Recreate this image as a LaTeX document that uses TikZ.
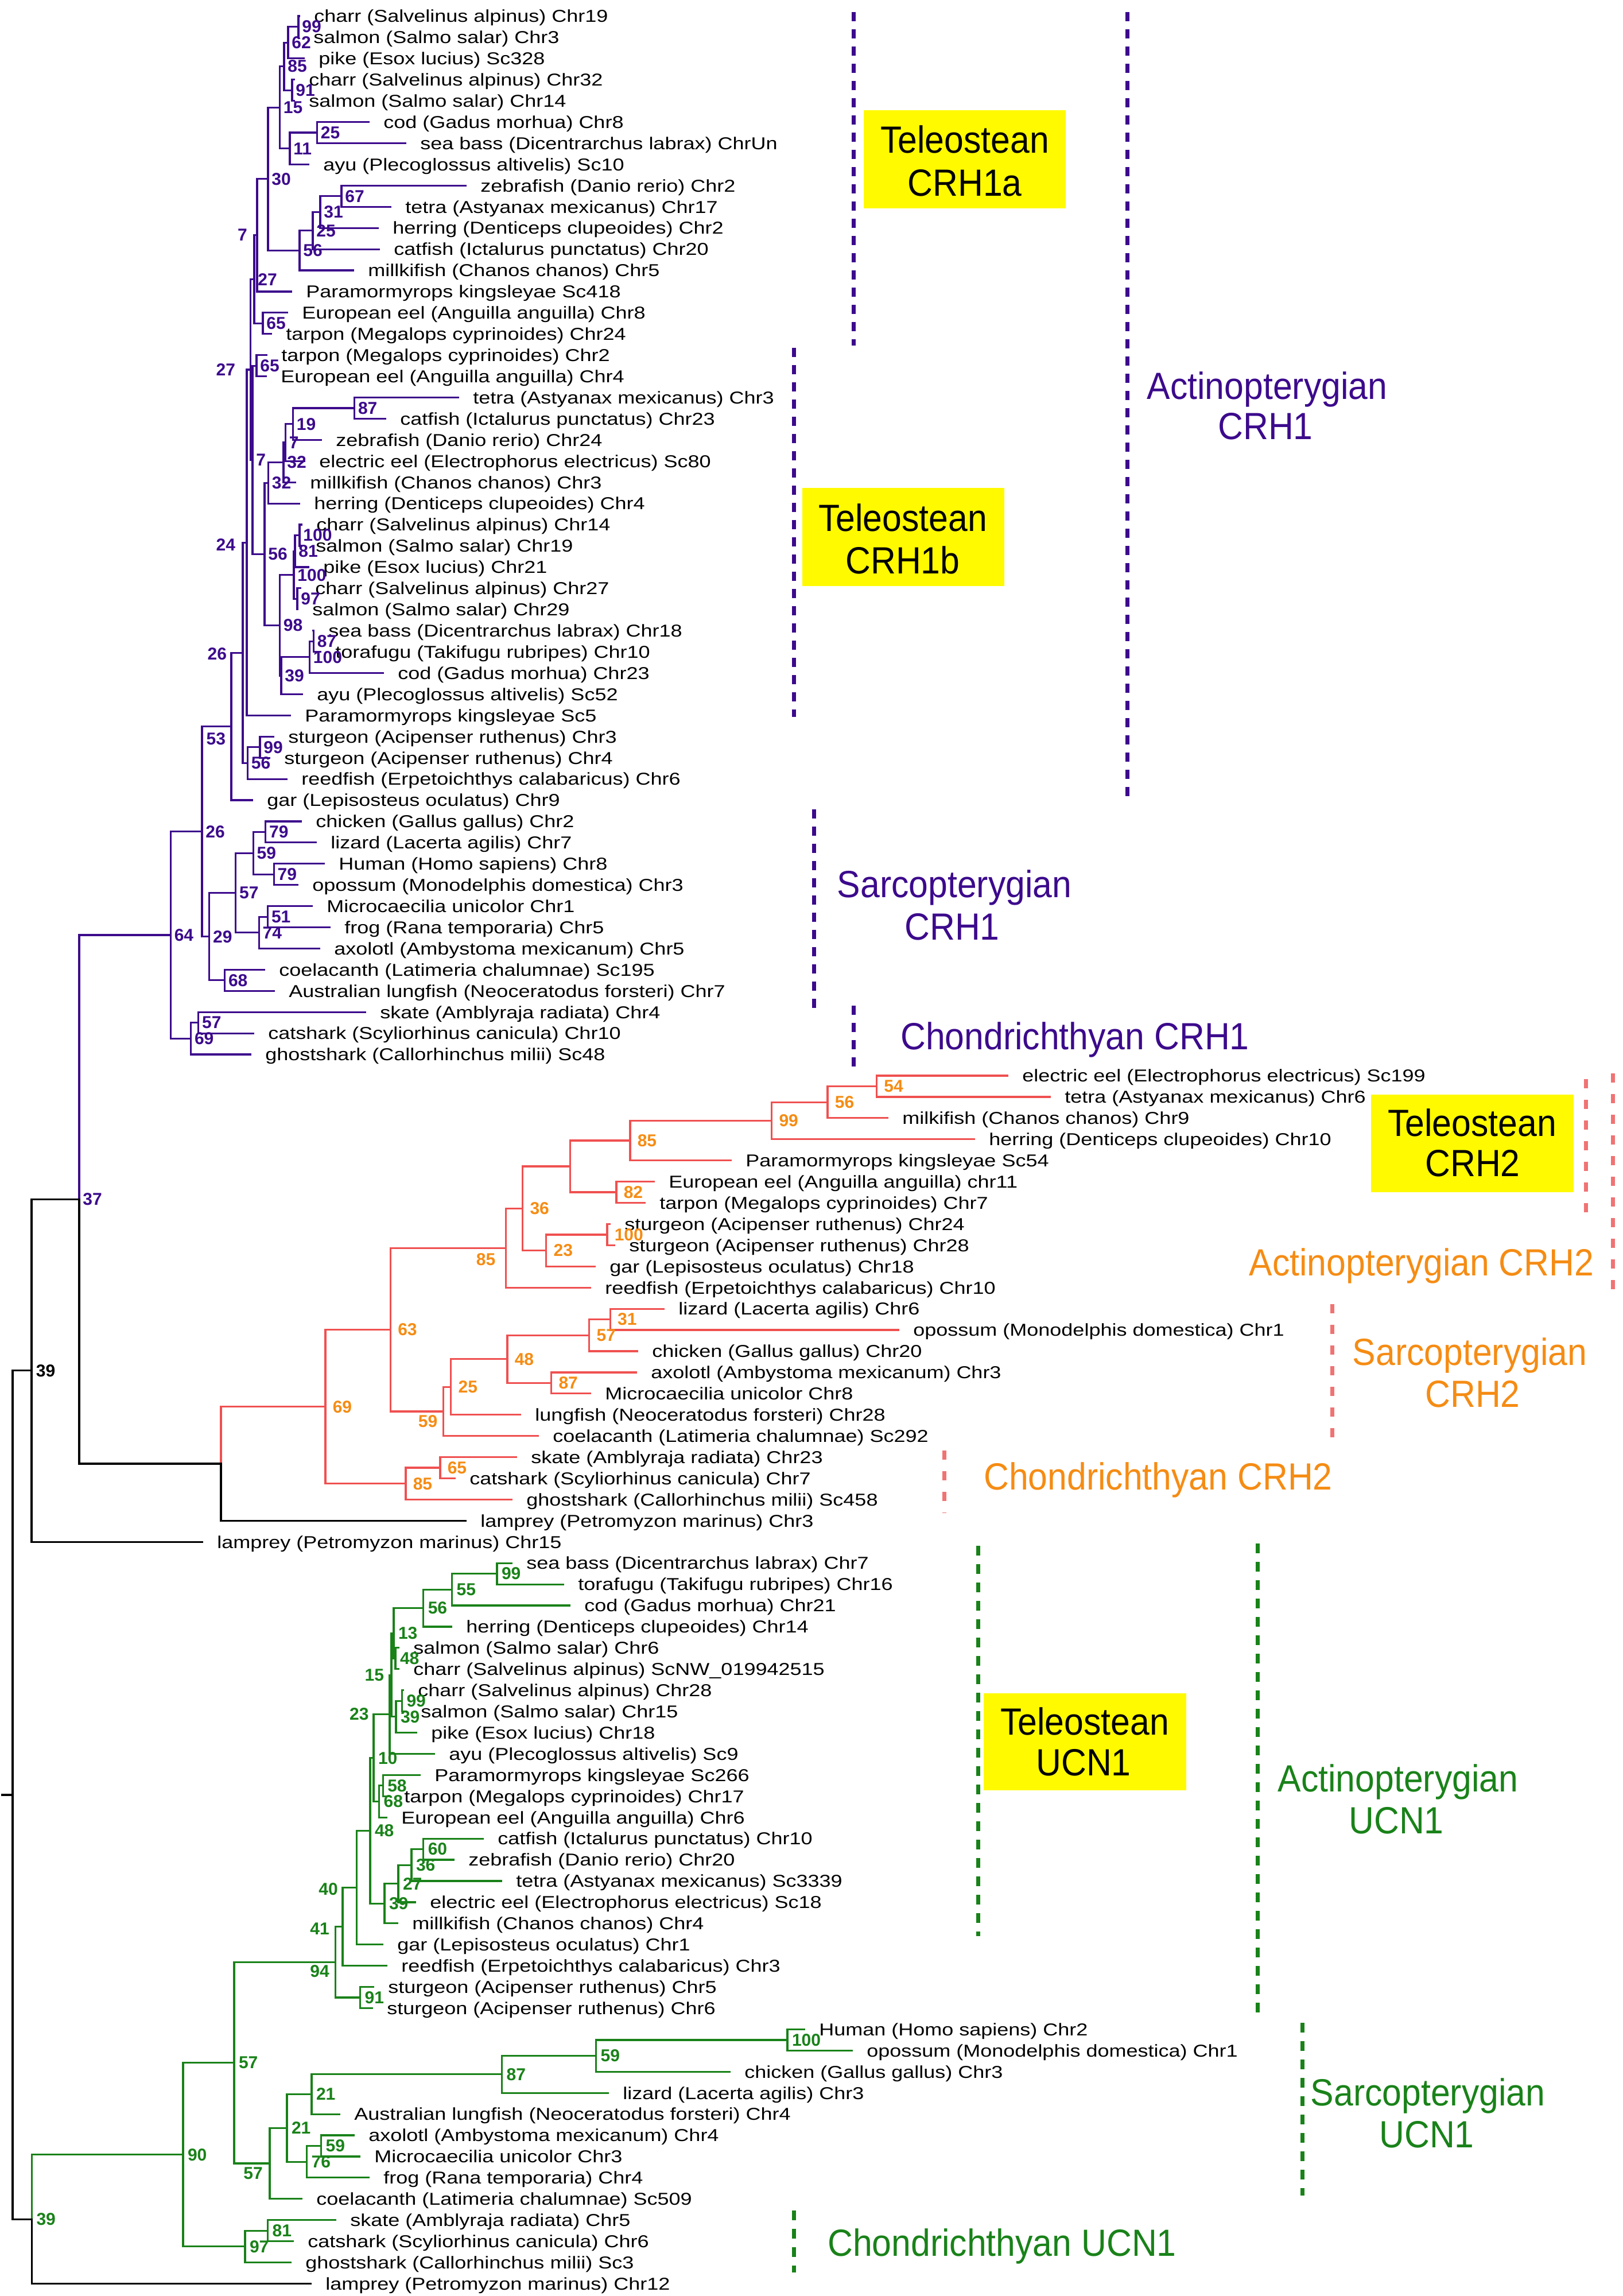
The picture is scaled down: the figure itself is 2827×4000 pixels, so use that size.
\documentclass[tikz,border=0pt]{standalone}
\usepackage{fontspec}
\setmainfont{Liberation Sans}
\newfontfamily\leaffont[FakeStretch=1.2]{Liberation Sans}
\newfontfamily\grpfont[FakeStretch=0.92]{Liberation Sans}
\definecolor{pur}{RGB}{60,10,140}
\definecolor{redb}{RGB}{240,80,80}
\definecolor{redd}{RGB}{240,115,115}
\definecolor{org}{RGB}{245,140,20}
\definecolor{grn}{RGB}{25,130,25}
\definecolor{yel}{RGB}{255,250,0}
\tikzset{
  br/.style={line width=0.8pt, line cap=rect},
  pbr/.style={br, draw=pur},
  rbr/.style={br, draw=redb},
  gbr/.style={br, draw=grn},
  kbr/.style={br, draw=black},
  leaf/.style={anchor=base west, inner sep=0pt, xshift=6.4pt, yshift=-2.7pt, font=\leaffont\fontsize{7.5}{9}\selectfont},
  bsbase/.style={inner sep=0pt, font=\bfseries\fontsize{7.5}{9}\selectfont},
  bsP/.style={bsbase, anchor=west, xshift=1.4pt, text=pur},
  bsO/.style={bsbase, anchor=west, xshift=3pt, text=org},
  bsG/.style={bsbase, anchor=west, xshift=1.8pt, text=grn},
  bsK/.style={bsbase, anchor=west, xshift=1.8pt, text=black},
  bsC/.style={bsbase, anchor=center},
  grp/.style={anchor=base, inner sep=0pt, font=\grpfont\fontsize{16.5}{19}\selectfont},
  pdash/.style={line width=1.75pt, draw=pur, dash pattern=on 4pt off 3.5pt},
  rdash/.style={line width=1.75pt, draw=redd, dash pattern=on 4pt off 5pt},
  gdash/.style={line width=1.75pt, draw=grn, dash pattern=on 4.25pt off 3.75pt},
}
\newcommand{\leafat}[3]{\coordinate (L#1) at (#2,#1);\node[leaf] (t#1) at (L#1) {#3};}
\begin{document}
\begin{tikzpicture}[x=0.25pt,y=-9.23pt]
% ---------- frame (full-pixel scope) ----------
\begin{scope}[x=0.25pt,y=-0.25pt,yshift=7pt]
\useasboundingbox (0,0) rectangle (2827,4000);
\end{scope}
% ---------- leaves ----------
\leafat{0}{521}{charr (Salvelinus alpinus) Chr19}
\leafat{1}{520}{salmon (Salmo salar) Chr3}
\leafat{2}{529}{pike (Esox lucius) Sc328}
\leafat{3}{512}{charr (Salvelinus alpinus) Chr32}
\leafat{4}{512}{salmon (Salmo salar) Chr14}
\leafat{5}{642}{cod (Gadus morhua) Chr8}
\leafat{6}{706}{sea bass (Dicentrarchus labrax) ChrUn}
\leafat{7}{537}{ayu (Plecoglossus altivelis) Sc10}
\leafat{8}{811}{zebrafish (Danio rerio) Chr2}
\leafat{9}{680}{tetra (Astyanax mexicanus) Chr17}
\leafat{10}{658}{herring (Denticeps clupeoides) Chr2}
\leafat{11}{660}{catfish (Ictalurus punctatus) Chr20}
\leafat{12}{615}{millkifish (Chanos chanos) Chr5}
\leafat{13}{507}{Paramormyrops kingsleyae Sc418}
\leafat{14}{500}{European eel (Anguilla anguilla) Chr8}
\leafat{15}{472}{tarpon (Megalops cyprinoides) Chr24}
\leafat{16}{464}{tarpon (Megalops cyprinoides) Chr2}
\leafat{17}{463}{European eel (Anguilla anguilla) Chr4}
\leafat{18}{798}{tetra (Astyanax mexicanus) Chr3}
\leafat{19}{671}{catfish (Ictalurus punctatus) Chr23}
\leafat{20}{559}{zebrafish (Danio rerio) Chr24}
\leafat{21}{530}{electric eel (Electrophorus electricus) Sc80}
\leafat{22}{514}{millkifish (Chanos chanos) Chr3}
\leafat{23}{521}{herring (Denticeps clupeoides) Chr4}
\leafat{24}{525}{charr (Salvelinus alpinus) Chr14}
\leafat{25}{524}{salmon (Salmo salar) Chr19}
\leafat{26}{537}{pike (Esox lucius) Chr21}
\leafat{27}{523}{charr (Salvelinus alpinus) Chr27}
\leafat{28}{518}{salmon (Salmo salar) Chr29}
\leafat{29}{546}{sea bass (Dicentrarchus labrax) Chr18}
\leafat{30}{558}{torafugu (Takifugu rubripes) Chr10}
\leafat{31}{667}{cod (Gadus morhua) Chr23}
\leafat{32}{526}{ayu (Plecoglossus altivelis) Sc52}
\leafat{33}{505}{Paramormyrops kingsleyae Sc5}
\leafat{34}{476}{sturgeon (Acipenser ruthenus) Chr3}
\leafat{35}{469}{sturgeon (Acipenser ruthenus) Chr4}
\leafat{36}{499}{reedfish (Erpetoichthys calabaricus) Chr6}
\leafat{37}{439}{gar (Lepisosteus oculatus) Chr9}
\leafat{38}{524}{chicken (Gallus gallus) Chr2}
\leafat{39}{550}{lizard (Lacerta agilis) Chr7}
\leafat{40}{564}{Human (Homo sapiens) Chr8}
\leafat{41}{518}{opossum (Monodelphis domestica) Chr3}
\leafat{42}{543}{Microcaecilia unicolor Chr1}
\leafat{43}{574}{frog (Rana temporaria) Chr5}
\leafat{44}{556}{axolotl (Ambystoma mexicanum) Chr5}
\leafat{45}{460}{coelacanth (Latimeria chalumnae) Sc195}
\leafat{46}{477}{Australian lungfish (Neoceratodus forsteri) Chr7}
\leafat{47}{636}{skate (Amblyraja radiata) Chr4}
\leafat{48}{441}{catshark (Scyliorhinus canicula) Chr10}
\leafat{49}{436}{ghostshark (Callorhinchus milii) Sc48}
\leafat{50}{1755}{electric eel (Electrophorus electricus) Sc199}
\leafat{51}{1829}{tetra (Astyanax mexicanus) Chr6}
\leafat{52}{1546}{milkifish (Chanos chanos) Chr9}
\leafat{53}{1697}{herring (Denticeps clupeoides) Chr10}
\leafat{54}{1273}{Paramormyrops kingsleyae Sc54}
\leafat{55}{1139}{European eel (Anguilla anguilla) chr11}
\leafat{56}{1123}{tarpon (Megalops cyprinoides) Chr7}
\leafat{57}{1062}{sturgeon (Acipenser ruthenus) Chr24}
\leafat{58}{1070}{sturgeon (Acipenser ruthenus) Chr28}
\leafat{59}{1036}{gar (Lepisosteus oculatus) Chr18}
\leafat{60}{1028}{reedfish (Erpetoichthys calabaricus) Chr10}
\leafat{61}{1156}{lizard (Lacerta agilis) Chr6}
\leafat{62}{1565}{opossum (Monodelphis domestica) Chr1}
\leafat{63}{1110}{chicken (Gallus gallus) Chr20}
\leafat{64}{1108}{axolotl (Ambystoma mexicanum) Chr3}
\leafat{65}{1028}{Microcaecilia unicolor Chr8}
\leafat{66}{906}{lungfish (Neoceratodus forsteri) Chr28}
\leafat{67}{937}{coelacanth (Latimeria chalumnae) Sc292}
\leafat{68}{899}{skate (Amblyraja radiata) Chr23}
\leafat{69}{792}{catshark (Scyliorhinus canicula) Chr7}
\leafat{70}{891}{ghostshark (Callorhinchus milii) Sc458}
\leafat{71}{811}{lamprey (Petromyzon marinus) Chr3}
\leafat{72}{352}{lamprey (Petromyzon marinus) Chr15}
\leafat{73}{891}{sea bass (Dicentrarchus labrax) Chr7}
\leafat{74}{981}{torafugu (Takifugu rubripes) Chr16}
\leafat{75}{992}{cod (Gadus morhua) Chr21}
\leafat{76}{786}{herring (Denticeps clupeoides) Chr14}
\leafat{77}{694}{salmon (Salmo salar) Chr6}
\leafat{78}{694}{charr (Salvelinus alpinus) ScNW\_019942515}
\leafat{79}{702}{charr (Salvelinus alpinus) Chr28}
\leafat{80}{707}{salmon (Salmo salar) Chr15}
\leafat{81}{725}{pike (Esox lucius) Chr18}
\leafat{82}{756}{ayu (Plecoglossus altivelis) Sc9}
\leafat{83}{731}{Paramormyrops kingsleyae Sc266}
\leafat{84}{678}{tarpon (Megalops cyprinoides) Chr17}
\leafat{85}{673}{European eel (Anguilla anguilla) Chr6}
\leafat{86}{841}{catfish (Ictalurus punctatus) Chr10}
\leafat{87}{790}{zebrafish (Danio rerio) Chr20}
\leafat{88}{873}{tetra (Astyanax mexicanus) Sc3339}
\leafat{89}{723}{electric eel (Electrophorus electricus) Sc18}
\leafat{90}{692}{millkifish (Chanos chanos) Chr4}
\leafat{91}{666}{gar (Lepisosteus oculatus) Chr1}
\leafat{92}{673}{reedfish (Erpetoichthys calabaricus) Chr3}
\leafat{93}{650}{sturgeon (Acipenser ruthenus) Chr5}
\leafat{94}{648}{sturgeon (Acipenser ruthenus) Chr6}
\leafat{95}{1401}{Human (Homo sapiens) Chr2}
\leafat{96}{1484}{opossum (Monodelphis domestica) Chr1}
\leafat{97}{1271}{chicken (Gallus gallus) Chr3}
\leafat{98}{1059}{lizard (Lacerta agilis) Chr3}
\leafat{99}{591}{Australian lungfish (Neoceratodus forsteri) Chr4}
\leafat{100}{616}{axolotl (Ambystoma mexicanum) Chr4}
\leafat{101}{626}{Microcaecilia unicolor Chr3}
\leafat{102}{642}{frog (Rana temporaria) Chr4}
\leafat{103}{525}{coelacanth (Latimeria chalumnae) Sc509}
\leafat{104}{584}{skate (Amblyraja radiata) Chr5}
\leafat{105}{510}{catshark (Scyliorhinus canicula) Chr6}
\leafat{106}{506}{ghostshark (Callorhinchus milii) Sc3}
\leafat{107}{541}{lamprey (Petromyzon marinus) Chr12}
% ---------- internal nodes: CRH1 ----------
\coordinate (a99) at (520,0.5);
\coordinate (a62) at (502,1.25);
\coordinate (a91) at (509,3.5);
\coordinate (a85) at (495,2.375);
\coordinate (a25) at (552.5,5.5);
\coordinate (a11) at (505,6.25);
\coordinate (a15) at (487.5,4.3125);
\coordinate (a67) at (595,8.5);
\coordinate (a31) at (558,9.25);
\coordinate (b25) at (545,10.125);
\coordinate (a56) at (522,11.0625);
\coordinate (a30) at (467,7.6875);
\coordinate (a7) at (448,10.34375);
\coordinate (a65) at (458,14.5);
\coordinate (a27) at (443,12.421875);
\coordinate (b65) at (447,16.5);
\coordinate (a87) at (617.6,18.5);
\coordinate (a19) at (510.5,19.25);
\coordinate (c7) at (497.4,20.125);
\coordinate (a32) at (494,21.0625);
\coordinate (b32) at (467.5,22.03125);
\coordinate (a100) at (522,24.5);
\coordinate (a81) at (514,25.25);
\coordinate (a97) at (518,27.5);
\coordinate (b100) at (512,26.375);
\coordinate (b87) at (546.4,29.5);
\coordinate (c100) at (539.5,30.25);
\coordinate (a39) at (490,31.125);
\coordinate (a98) at (487.5,28.75);
\coordinate (b56) at (461,25.390625);
\coordinate (b7) at (440,20.9453);
\coordinate (b27) at (436.5,16.6836);
\coordinate (a24) at (430,24.8418);
\coordinate (b99) at (453,34.5);
\coordinate (c56) at (431.5,35.25);
\coordinate (a26) at (423,30.0459);
\coordinate (a53) at (403,33.523);
\coordinate (a79) at (462.7,38.5);
\coordinate (b79) at (477.3,40.5);
\coordinate (a59) at (441.3,39.5);
\coordinate (a51) at (466.6,42.5);
\coordinate (a74) at (451.3,43.25);
\coordinate (a57) at (410.7,41.375);
\coordinate (a68) at (391.6,45.5);
\coordinate (a29) at (364.8,43.4375);
\coordinate (b26) at (352,38.48);
\coordinate (b57) at (345.7,47.5);
\coordinate (a69) at (332.6,48.25);
\coordinate (a64) at (297.4,43.365);
% ---------- internal nodes: CRH2 ----------
\coordinate (c54) at (1527.6,50.5);
\coordinate (d56) at (1442,51.25);
\coordinate (c99) at (1344.7,52.125);
\coordinate (c85) at (1098,53.0625);
\coordinate (c82) at (1074,55.5);
\coordinate (cx) at (993.8,54.28125);
\coordinate (d100) at (1058,57.5);
\coordinate (c23) at (951.8,58.25);
\coordinate (c36) at (910.7,56.2656);
\coordinate (d85) at (881.4,58.1328);
\coordinate (c31) at (1063.4,61.5);
\coordinate (d57) at (1026.8,62.25);
\coordinate (c87) at (960.7,64.5);
\coordinate (c48) at (884,63.375);
\coordinate (d25) at (785.8,64.6875);
\coordinate (d59) at (772.4,65.84375);
\coordinate (c63) at (680.5,61.988);
\coordinate (c65) at (767,68.5);
\coordinate (e85) at (707,69.25);
\coordinate (c69) at (567,65.619);
\coordinate (crl) at (385,68.3095);
\coordinate (n37) at (138,55.837);
\coordinate (n39) at (55,63.9185);
% ---------- internal nodes: UCN1 ----------
\coordinate (u99) at (866,73.5);
\coordinate (u55) at (787.6,74.25);
\coordinate (u56) at (737.8,75.125);
\coordinate (u48) at (689,77.5);
\coordinate (u13) at (686,76.3125);
\coordinate (v99) at (700.5,79.5);
\coordinate (u39) at (690,80.25);
\coordinate (u15) at (682,78.28125);
\coordinate (u23) at (679,80.140625);
\coordinate (u58) at (667.3,83.5);
\coordinate (u68) at (660.7,84.25);
\coordinate (u10) at (651,82.1953);
\coordinate (u60) at (737.8,86.5);
\coordinate (u36) at (717,87.25);
\coordinate (u27) at (694,88.125);
\coordinate (v39) at (670,89.0625);
\coordinate (v48) at (645,85.6289);
\coordinate (u40) at (621.8,88.3145);
\coordinate (u41) at (597,90.157);
\coordinate (u91) at (627.6,93.5);
\coordinate (u94) at (584.4,91.8286);
\coordinate (u100) at (1372,95.5);
\coordinate (v59) at (1038.7,96.25);
\coordinate (u87) at (874.6,97.125);
\coordinate (u21) at (543,98.0625);
\coordinate (w59) at (559.6,100.5);
\coordinate (u76) at (534.7,101.25);
\coordinate (v21) at (500,99.656);
\coordinate (u57) at (470,101.328);
\coordinate (v57) at (408,96.578);
\coordinate (u81) at (466.7,104.5);
\coordinate (u97) at (427,105.25);
\coordinate (u90) at (319,100.914);
\coordinate (u39g) at (55.5,103.957);
\coordinate (root) at (22,83.938);
\coordinate (rstem) at (4,83.938);
% ---------- branches: CRH1 ----------
\draw[pbr] (L0) -| (a99) |- (L1);
\draw[pbr] (a99) -| (a62) |- (L2);
\draw[pbr] (L3) -| (a91) |- (L4);
\draw[pbr] (a62) -| (a85) |- (a91);
\draw[pbr] (L5) -| (a25) |- (L6);
\draw[pbr] (a25) -| (a11) |- (L7);
\draw[pbr] (a85) -| (a15) |- (a11);
\draw[pbr] (L8) -| (a67) |- (L9);
\draw[pbr] (a67) -| (a31) |- (L10);
\draw[pbr] (a31) -| (b25) |- (L11);
\draw[pbr] (b25) -| (a56) |- (L12);
\draw[pbr] (a15) -| (a30) |- (a56);
\draw[pbr] (a30) -| (a7) |- (L13);
\draw[pbr] (L14) -| (a65) |- (L15);
\draw[pbr] (a7) -| (a27) |- (a65);
\draw[pbr] (L16) -| (b65) |- (L17);
\draw[pbr] (L18) -| (a87) |- (L19);
\draw[pbr] (a87) -| (a19) |- (L20);
\draw[pbr] (a19) -| (c7) |- (L21);
\draw[pbr] (c7) -| (a32) |- (L22);
\draw[pbr] (a32) -| (b32) |- (L23);
\draw[pbr] (L24) -| (a100) |- (L25);
\draw[pbr] (a100) -| (a81) |- (L26);
\draw[pbr] (L27) -| (a97) |- (L28);
\draw[pbr] (a81) -| (b100) |- (a97);
\draw[pbr] (L29) -| (b87) |- (L30);
\draw[pbr] (b87) -| (c100) |- (L31);
\draw[pbr] (c100) -| (a39) |- (L32);
\draw[pbr] (b100) -| (a98) |- (a39);
\draw[pbr] (b32) -| (b56) |- (a98);
\draw[pbr] (b65) -| (b7) |- (b56);
\draw[pbr] (a27) -| (b27) |- (b7);
\draw[pbr] (b27) -| (a24) |- (L33);
\draw[pbr] (L34) -| (b99) |- (L35);
\draw[pbr] (b99) -| (c56) |- (L36);
\draw[pbr] (a24) -| (a26) |- (c56);
\draw[pbr] (a26) -| (a53) |- (L37);
\draw[pbr] (L38) -| (a79) |- (L39);
\draw[pbr] (L40) -| (b79) |- (L41);
\draw[pbr] (a79) -| (a59) |- (b79);
\draw[pbr] (L42) -| (a51) |- (L43);
\draw[pbr] (a51) -| (a74) |- (L44);
\draw[pbr] (a59) -| (a57) |- (a74);
\draw[pbr] (L45) -| (a68) |- (L46);
\draw[pbr] (a57) -| (a29) |- (a68);
\draw[pbr] (a53) -| (b26) |- (a29);
\draw[pbr] (L47) -| (b57) |- (L48);
\draw[pbr] (b57) -| (a69) |- (L49);
\draw[pbr] (b26) -| (a64) |- (a69);
\draw[pbr] (a64) -| (n37);
\draw[kbr] (n37) |- (crl);
% ---------- branches: CRH2 ----------
\draw[rbr] (L50) -| (c54) |- (L51);
\draw[rbr] (c54) -| (d56) |- (L52);
\draw[rbr] (d56) -| (c99) |- (L53);
\draw[rbr] (c99) -| (c85) |- (L54);
\draw[rbr] (L55) -| (c82) |- (L56);
\draw[rbr] (c85) -| (cx) |- (c82);
\draw[rbr] (L57) -| (d100) |- (L58);
\draw[rbr] (d100) -| (c23) |- (L59);
\draw[rbr] (cx) -| (c36) |- (c23);
\draw[rbr] (c36) -| (d85) |- (L60);
\draw[rbr] (L61) -| (c31) |- (L62);
\draw[rbr] (c31) -| (d57) |- (L63);
\draw[rbr] (L64) -| (c87) |- (L65);
\draw[rbr] (d57) -| (c48) |- (c87);
\draw[rbr] (c48) -| (d25) |- (L66);
\draw[rbr] (d25) -| (d59) |- (L67);
\draw[rbr] (d85) -| (c63) |- (d59);
\draw[rbr] (L68) -| (c65) |- (L69);
\draw[rbr] (c65) -| (e85) |- (L70);
\draw[rbr] (c63) -| (c69) |- (e85);
\draw[rbr] (c69) -| (crl);
\draw[kbr] (crl) |- (L71);
\draw[kbr] (n37) -| (n39) |- (L72);
% ---------- branches: UCN1 ----------
\draw[gbr] (L73) -| (u99) |- (L74);
\draw[gbr] (u99) -| (u55) |- (L75);
\draw[gbr] (u55) -| (u56) |- (L76);
\draw[gbr] (L77) -| (u48) |- (L78);
\draw[gbr] (u56) -| (u13) |- (u48);
\draw[gbr] (L79) -| (v99) |- (L80);
\draw[gbr] (v99) -| (u39) |- (L81);
\draw[gbr] (u13) -| (u15) |- (u39);
\draw[gbr] (u15) -| (u23) |- (L82);
\draw[gbr] (L83) -| (u58) |- (L84);
\draw[gbr] (u58) -| (u68) |- (L85);
\draw[gbr] (u23) -| (u10) |- (u68);
\draw[gbr] (L86) -| (u60) |- (L87);
\draw[gbr] (u60) -| (u36) |- (L88);
\draw[gbr] (u36) -| (u27) |- (L89);
\draw[gbr] (u27) -| (v39) |- (L90);
\draw[gbr] (u10) -| (v48) |- (v39);
\draw[gbr] (v48) -| (u40) |- (L91);
\draw[gbr] (u40) -| (u41) |- (L92);
\draw[gbr] (L93) -| (u91) |- (L94);
\draw[gbr] (u41) -| (u94) |- (u91);
\draw[gbr] (L95) -| (u100) |- (L96);
\draw[gbr] (u100) -| (v59) |- (L97);
\draw[gbr] (v59) -| (u87) |- (L98);
\draw[gbr] (u87) -| (u21) |- (L99);
\draw[gbr] (L100) -| (w59) |- (L101);
\draw[gbr] (w59) -| (u76) |- (L102);
\draw[gbr] (u21) -| (v21) |- (u76);
\draw[gbr] (v21) -| (u57) |- (L103);
\draw[gbr] (u94) -| (v57) |- (u57);
\draw[gbr] (L104) -| (u81) |- (L105);
\draw[gbr] (u81) -| (u97) |- (L106);
\draw[gbr] (v57) -| (u90) |- (u97);
\draw[gbr] (u90) -| (u39g);
\draw[kbr] (u39g) |- (L107);
\draw[kbr] (n39) -| (root) |- (u39g);
\draw[kbr] (rstem) -- (root);
% ---------- bootstrap labels: CRH1 ----------
\node[bsP] (ba99) at (a99) {99};
\node[bsP] (ba62) at (a62) {62};
\node[bsP] (ba91) at (a91) {91};
\node[bsP] (ba85) at (a85) {85};
\node[bsP] (ba25) at (a25) {25};
\node[bsP] (ba11) at (a11) {11};
\node[bsP] (ba15) at (a15) {15};
\node[bsP] (ba67) at (a67) {67};
\node[bsP] (ba31) at (a31) {31};
\node[bsP] (bb25) at (b25) {25};
\node[bsP] (ba56) at (a56) {56};
\node[bsP] (ba30) at (a30) {30};
\node[bsP] (ba65) at (a65) {65};
\node[bsP] (ba27) at (a27) {27};
\node[bsP] (bb65) at (b65) {65};
\node[bsP] (ba87) at (a87) {87};
\node[bsP] (ba19) at (a19) {19};
\node[bsP] (bc7) at (c7) {7};
\node[bsP] (ba32) at (a32) {32};
\node[bsP] (bb32) at (b32) {32};
\node[bsP] (ba100) at (a100) {100};
\node[bsP] (ba81) at (a81) {81};
\node[bsP] (ba97) at (a97) {97};
\node[bsP] (bb100) at (b100) {100};
\node[bsP] (bb87) at (b87) {87};
\node[bsP] (bc100) at (c100) {100};
\node[bsP] (ba39) at (a39) {39};
\node[bsP] (ba98) at (a98) {98};
\node[bsP] (bb56) at (b56) {56};
\node[bsP] (bb7) at (b7) {7};
\node[bsP] (bb99) at (b99) {99};
\node[bsP] (bc56) at (c56) {56};
\node[bsP] (ba79) at (a79) {79};
\node[bsP] (bb79) at (b79) {79};
\node[bsP] (ba59) at (a59) {59};
\node[bsP] (ba51) at (a51) {51};
\node[bsP] (ba74) at (a74) {74};
\node[bsP] (ba57) at (a57) {57};
\node[bsP] (ba68) at (a68) {68};
\node[bsP] (ba29) at (a29) {29};
\node[bsP] (bb26) at (b26) {26};
\node[bsP] (bb57) at (b57) {57};
\node[bsP] (ba69) at (a69) {69};
\node[bsP] (ba64) at (a64) {64};
\node[bsP] (bn37) at (n37) {37};
\node[bsC,text=pur] (ba7) at (422.4,10.32) {7};
\node[bsC,text=pur] (bb27) at (393.3,16.68) {27};
\node[bsC,text=pur] (ba24) at (393.3,24.95) {24};
\node[bsC,text=pur] (ba26) at (378.3,30.09) {26};
\node[bsC,text=pur] (ba53) at (376.3,34.1) {53};
% ---------- bootstrap labels: CRH2 ----------
\node[bsO] (bc54) at (c54) {54};
\node[bsO] (bd56) at (d56) {56};
\node[bsO] (bc99) at (c99) {99};
\node[bsO] (bc85) at (c85) {85};
\node[bsO] (bc82) at (c82) {82};
\node[bsO] (bd100) at (d100) {100};
\node[bsO] (bc23) at (c23) {23};
\node[bsO] (bc36) at (c36) {36};
\node[bsO] (bc31) at (c31) {31};
\node[bsO] (bd57) at (d57) {57};
\node[bsO] (bc87) at (c87) {87};
\node[bsO] (bc48) at (c48) {48};
\node[bsO] (bd25) at (d25) {25};
\node[bsO] (bc63) at (c63) {63};
\node[bsO] (bc65) at (c65) {65};
\node[bsO] (be85) at (e85) {85};
\node[bsO] (bc69) at (c69) {69};
\node[bsC,text=org] (bd85) at (846.6,58.66) {85};
\node[bsC,text=org] (bd59) at (745.6,66.3) {59};
\node[bsK] (bn39) at (n39) {39};
% ---------- bootstrap labels: UCN1 ----------
\node[bsG] (bu99) at (u99) {99};
\node[bsG] (bu55) at (u55) {55};
\node[bsG] (bu56) at (u56) {56};
\node[bsG] (bu48) at (u48) {48};
\node[bsG] (bu13) at (u13) {13};
\node[bsG] (bv99) at (v99) {99};
\node[bsG] (bu39) at (u39) {39};
\node[bsG] (bu10) at (u10) {10};
\node[bsG] (bu58) at (u58) {58};
\node[bsG] (bu68) at (u68) {68};
\node[bsG] (bv48) at (v48) {48};
\node[bsG] (bu60) at (u60) {60};
\node[bsG] (bu36) at (u36) {36};
\node[bsG] (bu27) at (u27) {27};
\node[bsG] (bv39) at (v39) {39};
\node[bsG] (bu91) at (u91) {91};
\node[bsG] (bu100) at (u100) {100};
\node[bsG] (bv59) at (v59) {59};
\node[bsG] (bu87) at (u87) {87};
\node[bsG] (bu21) at (u21) {21};
\node[bsG] (bw59) at (w59) {59};
\node[bsG] (bu76) at (u76) {76};
\node[bsG] (bv21) at (v21) {21};
\node[bsG] (bv57) at (v57) {57};
\node[bsG] (bu81) at (u81) {81};
\node[bsG] (bu97) at (u97) {97};
\node[bsG] (bu90) at (u90) {90};
\node[bsG] (bu39g) at (u39g) {39};
\node[bsC,text=grn] (bu15) at (652.4,78.28) {15};
\node[bsC,text=grn] (bu23) at (625.9,80.13) {23};
\node[bsC,text=grn] (bu40) at (572,88.38) {40};
\node[bsC,text=grn] (bu41) at (557,90.25) {41};
\node[bsC,text=grn] (bu94) at (557,92.25) {94};
\node[bsC,text=grn] (bu57) at (441,101.8) {57};
% ---------- group annotations (full-pixel scope) ----------
\begin{scope}[x=0.25pt,y=-0.25pt,yshift=7pt]
% CRH1
\draw[pdash] (1487,21) -- (1487,602);
\draw[pdash] (1964,21) -- (1964,1392);
\draw[pdash] (1383,606) -- (1383,1249);
\draw[pdash] (1418,1410) -- (1418,1757);
\draw[pdash] (1487,1752) -- (1487,1858);
\fill[yel] (1505,192) rectangle (1857,363.5);
\node[grp] (g1a) at (1681,267) {Teleostean};
\node[grp] (g1b) at (1681,342) {CRH1a};
\fill[yel] (1398,850) rectangle (1750,1021);
\node[grp] (g2a) at (1573,926) {Teleostean};
\node[grp] (g2b) at (1573,999) {CRH1b};
\node[grp,text=pur] (g3a) at (2208,696) {Actinopterygian};
\node[grp,text=pur] (g3b) at (2205,766) {CRH1};
\node[grp,text=pur] (g4a) at (1663,1563) {Sarcopterygian};
\node[grp,text=pur] (g4b) at (1659,1637) {CRH1};
\node[grp,text=pur] (g5) at (1873,1828) {Chondrichthyan CRH1};
% CRH2
\draw[rdash] (2763.6,1880) -- (2763.6,2112.5);
\draw[rdash] (2810,1870) -- (2810,2262);
\draw[rdash] (2321,2272) -- (2321,2508);
\draw[rdash] (1645.6,2527) -- (1645.6,2635.5);
\fill[yel] (2388.6,1907) rectangle (2741.5,2077.4);
\node[grp] (g6a) at (2565,1979) {Teleostean};
\node[grp] (g6b) at (2566,2049) {CRH2};
\node[grp,text=org] (g7) at (2477,2222) {Actinopterygian CRH2};
\node[grp,text=org] (g8a) at (2561,2378) {Sarcopterygian};
\node[grp,text=org] (g8b) at (2566,2451) {CRH2};
\node[grp,text=org] (g9) at (2018,2595) {Chondrichthyan CRH2};
% UCN1
\draw[gdash] (1704,2693) -- (1704,3373);
\draw[gdash] (2191,2689) -- (2191,3515);
\draw[gdash] (2269,3524) -- (2269,3825);
\draw[gdash] (1383,3851) -- (1383,3959);
\fill[yel] (1714,2949.6) rectangle (2066.5,3119);
\node[grp] (g10a) at (1890,3022) {Teleostean};
\node[grp] (g10b) at (1888,3093) {UCN1};
\node[grp,text=grn] (g11a) at (2436,3121) {Actinopterygian};
\node[grp,text=grn] (g11b) at (2433,3194) {UCN1};
\node[grp,text=grn] (g12a) at (2488,3668) {Sarcopterygian};
\node[grp,text=grn] (g12b) at (2486,3741) {UCN1};
\node[grp,text=grn] (g13) at (1746,3930) {Chondrichthyan UCN1};
\end{scope}
\end{tikzpicture}
\end{document}
